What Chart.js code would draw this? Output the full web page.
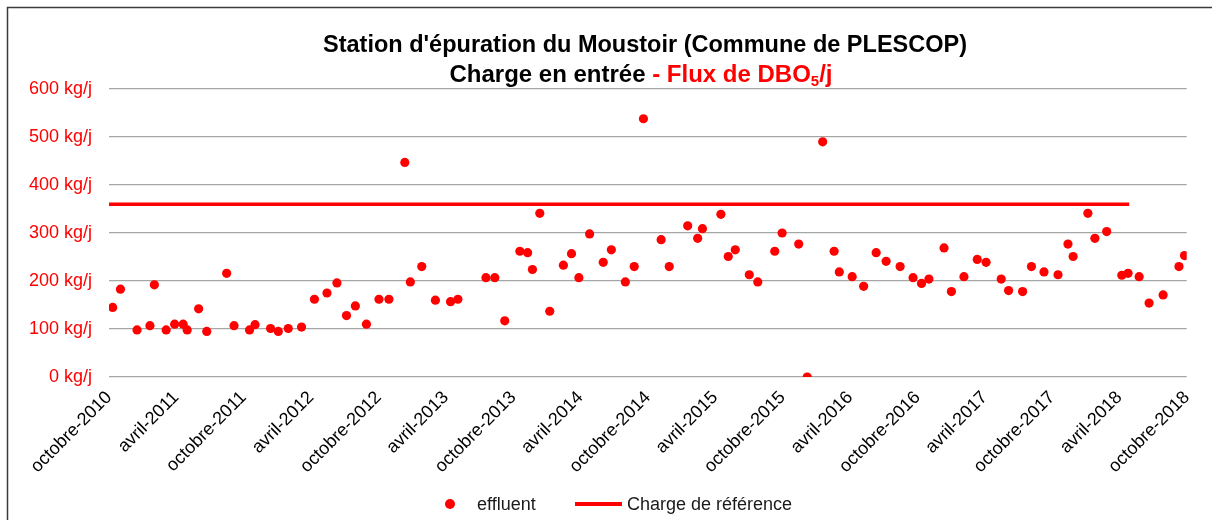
<!DOCTYPE html>
<html><head><meta charset="utf-8">
<script src="https://cdn.jsdelivr.net/npm/chart.js@4.4.1/dist/chart.umd.min.js"></script>
<style>html,body{margin:0;padding:0;background:#fff}#wrap{width:1212px;height:520px;position:relative}</style>
</head><body><div id="wrap"><canvas id="c" width="1212" height="520"></canvas></div>
<script>
// ---- data ----
const dates = ['2010-10-11','2010-11-01','2010-12-16','2011-01-20','2011-02-01','2011-03-05','2011-03-28','2011-04-20','2011-05-01','2011-06-01',
'2011-06-23','2011-08-16','2011-09-05','2011-10-17','2011-11-01','2011-12-13','2012-01-03','2012-01-30','2012-03-06','2012-04-10',
'2012-05-14','2012-06-10','2012-07-06','2012-07-30','2012-08-29','2012-10-02','2012-10-29','2012-12-11','2012-12-26','2013-01-26',
'2013-03-04','2013-04-14','2013-05-04','2013-07-19','2013-08-12','2013-09-08','2013-10-19','2013-11-09','2013-11-22','2013-12-12',
'2014-01-08','2014-02-14','2014-03-08','2014-03-28','2014-04-26','2014-06-02','2014-06-24','2014-08-01','2014-08-25','2014-09-19',
'2014-11-06','2014-11-28','2015-01-17','2015-02-13','2015-02-26','2015-04-17','2015-05-07','2015-05-26','2015-07-03','2015-07-26',
'2015-09-10','2015-09-30','2015-11-14','2015-12-07','2016-01-18','2016-02-18','2016-03-03','2016-04-07','2016-05-08','2016-06-11',
'2016-07-08','2016-08-15','2016-09-19','2016-10-12','2016-11-01','2016-12-12','2017-01-01','2017-02-04','2017-03-12','2017-04-05',
'2017-05-16','2017-06-05','2017-07-13','2017-08-06','2017-09-09','2017-10-17','2017-11-13','2017-11-27','2018-01-06','2018-01-25',
'2018-02-26','2018-04-08','2018-04-25','2018-05-25','2018-06-21','2018-07-29','2018-09-10','2018-09-25'];
const effluent = [145,183,98,107,192,98,110,110,98,142,
95,216,107,98,109,101,95,101,104,162,
175,196,128,148,110,162,162,447,198,230,
160,157,162,207,207,117,262,259,224,341,
137,233,257,207,298,239,265,198,230,538,
286,230,315,289,309,339,251,265,213,198,
262,300,277,0,490,262,219,209,189,259,
241,230,207,195,204,269,178,209,245,239,
204,180,178,230,219,213,277,251,341,289,
303,212,216,209,154,171,230,253];
const refDates = ['2010-10-01','2018-04-28'];
const refCharge = [360,360];
const tickDates = ['2010-10-01','2011-04-01','2011-10-01','2012-04-01','2012-10-01','2013-04-01','2013-10-01','2014-04-01','2014-10-01',
'2015-04-01','2015-10-01','2016-04-01','2016-10-01','2017-04-01','2017-10-01','2018-04-01','2018-10-01'];
const tickLabels = ['octobre-2010','avril-2011','octobre-2011','avril-2012','octobre-2012','avril-2013','octobre-2013','avril-2014','octobre-2014',
'avril-2015','octobre-2015','avril-2016','octobre-2016','avril-2017','octobre-2017','avril-2018','octobre-2018'];
const yTicks = [0,100,200,300,400,500,600];
const yUnit = ' kg/j';
const seriesNames = ['effluent','Charge de référence'];
const titleLine1 = "Station d'épuration du Moustoir (Commune de PLESCOP)";
const titleLine2 = [['Charge en entrée ','#000',false],['- Flux de DBO','#ff0000',false],['5','#ff0000',true],['/j','#ff0000',false]];

// ---- helpers ----
const origin = Date.UTC(2010,9,1);
function dayNum(s){const [y,m,d]=s.split('-').map(Number);return (Date.UTC(y,m-1,d)-origin)/86400000;}
const tickDays = tickDates.map(dayNum);
const FONT = '"Liberation Sans", Arial, sans-serif';
const RED = '#ff0000';

const chromePlugin = {
  id:'chrome',
  beforeDraw(chart){
    const ctx=chart.ctx;
    ctx.save();
    ctx.fillStyle='#fff';ctx.fillRect(0,0,chart.width,chart.height);
    ctx.strokeStyle='#3a3a3a';ctx.lineWidth=1.5;
    ctx.strokeRect(7.5,7.5,1400,700);
    ctx.restore();
  },
  afterDraw(chart){
    const ctx=chart.ctx;
    ctx.save();
    ctx.textBaseline='alphabetic';
    ctx.font='bold 23.5px '+FONT;
    ctx.fillStyle='#000';ctx.textAlign='center';
    ctx.fillText(titleLine1,645,52);
    // line 2
    ctx.textAlign='left';
    const subFont='bold 15px '+FONT, mainFont='bold 24px '+FONT;
    let total=0;
    titleLine2.forEach(([t,c,sub])=>{ctx.font=sub?subFont:mainFont;total+=ctx.measureText(t).width;});
    let x=641-total/2;
    titleLine2.forEach(([t,c,sub])=>{ctx.font=sub?subFont:mainFont;ctx.fillStyle=c;ctx.fillText(t,x,sub?86:82);x+=ctx.measureText(t).width;});
    // legend
    const ly=504;
    ctx.font='18px '+FONT;ctx.textBaseline='middle';
    ctx.beginPath();ctx.arc(450,ly,5,0,Math.PI*2);ctx.fillStyle=RED;ctx.fill();
    ctx.fillStyle='#1a1a1a';ctx.fillText(seriesNames[0],477,ly+1);
    ctx.strokeStyle=RED;ctx.lineWidth=4;ctx.beginPath();ctx.moveTo(575,ly);ctx.lineTo(622,ly);ctx.stroke();
    ctx.fillText(seriesNames[1],627,ly+1);
    ctx.restore();
  }
};

new Chart(document.getElementById('c'),{
  type:'scatter',
  data:{datasets:[
    {label:seriesNames[0],data:dates.map((d,i)=>({x:dayNum(d),y:effluent[i]})),
     backgroundColor:RED,borderColor:RED,borderWidth:0,pointRadius:4.6,pointHoverRadius:4.6,order:1},
    {label:seriesNames[1],data:refDates.map((d,i)=>({x:dayNum(d),y:refCharge[i]})),
     showLine:true,borderColor:RED,backgroundColor:RED,borderWidth:3.6,pointRadius:0,order:2}
  ]},
  options:{
    responsive:false,animation:false,
    layout:{padding:{top:89,right:24,left:0,bottom:0}},
    plugins:{legend:{display:false},title:{display:false},tooltip:{enabled:false}},
    scales:{
      x:{type:'linear',min:0,max:tickDays[tickDays.length-1],
        afterBuildTicks(s){s.ticks=tickDays.map(v=>({value:v}));},
        afterFit(s){s.height=143;},
        grid:{display:false,drawTicks:false},border:{display:false},
        ticks:{autoSkip:false,minRotation:45,maxRotation:45,padding:10,color:'#000',font:{family:FONT,size:18},
          callback(v){const i=tickDays.indexOf(v);return i>=0?tickLabels[i]:'';}}
      },
      y:{min:0,max:600,
        afterBuildTicks(s){s.ticks=yTicks.map(v=>({value:v}));},
        afterFit(s){s.width=109;},
        grid:{color:'#a6a6a6',lineWidth:1.2,drawTicks:false},border:{display:false},
        ticks:{padding:17,color:RED,font:{family:FONT,size:18},callback(v){return v+yUnit;}}
      }
    }
  },
  plugins:[chromePlugin]
});
</script></body></html>
